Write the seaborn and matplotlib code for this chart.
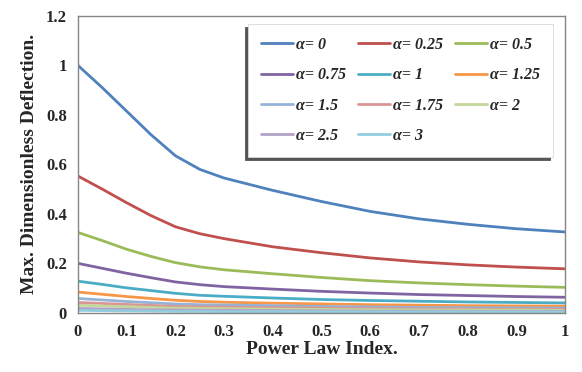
import numpy as np
import pandas as pd
import seaborn as sns
import matplotlib
matplotlib.use("Agg")
import matplotlib.pyplot as plt

# power law index values
n_index = [0.0, 0.05, 0.1, 0.15, 0.2, 0.25, 0.3, 0.4, 0.5, 0.6, 0.7, 0.8, 0.9, 1.0]

# max dimensionless deflection for each alpha
defl_a0 = [1.000, 0.910, 0.815, 0.720, 0.635, 0.580, 0.545, 0.495, 0.450, 0.410, 0.380, 0.358, 0.340, 0.327]
defl_a025 = [0.553, 0.500, 0.445, 0.393, 0.348, 0.320, 0.300, 0.267, 0.243, 0.222, 0.206, 0.194, 0.185, 0.178]
defl_a05 = [0.325, 0.292, 0.257, 0.228, 0.203, 0.186, 0.174, 0.158, 0.143, 0.130, 0.121, 0.114, 0.108, 0.103]
defl_a075 = [0.200, 0.180, 0.160, 0.142, 0.125, 0.114, 0.106, 0.096, 0.087, 0.080, 0.074, 0.070, 0.066, 0.063]
defl_a1 = [0.128, 0.115, 0.101, 0.090, 0.079, 0.071, 0.067, 0.060, 0.054, 0.050, 0.047, 0.044, 0.042, 0.040]
defl_a125 = [0.084, 0.075, 0.066, 0.058, 0.051, 0.046, 0.043, 0.039, 0.036, 0.033, 0.031, 0.029, 0.028, 0.027]
defl_a15 = [0.058, 0.052, 0.046, 0.041, 0.036, 0.033, 0.032, 0.029, 0.026, 0.024, 0.022, 0.021, 0.020, 0.019]
defl_a175 = [0.042, 0.038, 0.034, 0.030, 0.026, 0.024, 0.023, 0.021, 0.019, 0.017, 0.016, 0.015, 0.014, 0.014]
defl_a2 = [0.031, 0.028, 0.025, 0.022, 0.019, 0.018, 0.017, 0.015, 0.014, 0.013, 0.012, 0.011, 0.011, 0.010]
defl_a25 = [0.018, 0.016, 0.014, 0.012, 0.011, 0.010, 0.010, 0.009, 0.008, 0.007, 0.007, 0.006, 0.006, 0.006]
defl_a3 = [0.010, 0.009, 0.008, 0.007, 0.006, 0.0055, 0.005, 0.005, 0.0045, 0.004, 0.004, 0.0036, 0.0034, 0.0033]

alpha_labels = ["α= 0", "α= 0.25", "α= 0.5", "α= 0.75", "α= 1", "α= 1.25",
                "α= 1.5", "α= 1.75", "α= 2", "α= 2.5", "α= 3"]
all_series = [defl_a0, defl_a025, defl_a05, defl_a075, defl_a1, defl_a125,
              defl_a15, defl_a175, defl_a2, defl_a25, defl_a3]

colors = ["#4F81BD", "#C0504D", "#9BBB59", "#8064A2", "#4BACC6", "#F79646",
          "#95B3D7", "#D99694", "#C3D69B", "#B3A2C7", "#93CDDD"]

x_ticklabels = ["0", "0.1", "0.2", "0.3", "0.4", "0.5", "0.6", "0.7", "0.8", "0.9", "1"]
y_ticklabels = ["0", "0.2", "0.4", "0.6", "0.8", "1", "1.2"]

rows = []
for lab, vals in zip(alpha_labels, all_series):
    for x, v in zip(n_index, vals):
        rows.append({"n": x, "defl": v, "alpha": lab})
df = pd.DataFrame(rows)

sns.set_style("white")
plt.rcParams["font.family"] = ["Liberation Serif", "DejaVu Serif"]

fig = plt.figure(figsize=(5.82, 3.72), dpi=100)
ax = fig.add_axes([0.134, 0.159, 0.837, 0.798])

sns.lineplot(data=df, x="n", y="defl", hue="alpha", hue_order=alpha_labels,
             palette=colors, linewidth=2, ax=ax, legend=False)

ax.set_xlim(0, 1)
ax.set_ylim(0, 1.2)
ax.set_xticks(np.linspace(0, 1, len(x_ticklabels)))
ax.set_xticklabels(x_ticklabels)
ax.set_yticks(np.linspace(0, 1.2, len(y_ticklabels)))
ax.set_yticklabels(y_ticklabels)
for lbl in ax.get_xticklabels() + ax.get_yticklabels():
    lbl.set_fontweight("bold")
    lbl.set_fontsize(12)

for sp in ax.spines.values():
    sp.set_color("#868686")
    sp.set_linewidth(1)
ax.tick_params(direction="out", length=4, color="#868686", width=1, pad=4)

ax.set_xlabel("Power Law Index.", fontsize=14, fontweight="bold", labelpad=1)
ax.set_ylabel("Max. Dimensionless Deflection.", fontsize=14, fontweight="bold", labelpad=6)

# legend filled row by row like the original (matplotlib fills columns)
order = [0, 3, 6, 9, 1, 4, 7, 10, 2, 5, 8]
handles = [plt.Line2D([], [], color=colors[i], lw=2) for i in order]
labels = [alpha_labels[i] for i in order]
leg = ax.legend(handles, labels, ncol=3, loc="upper right",
                bbox_to_anchor=(0.992, 1.0), frameon=True, fancybox=False,
                prop={"weight": "bold", "style": "italic", "size": 11.5},
                handlelength=2.0, handletextpad=0.2, columnspacing=0.75,
                labelspacing=0.9, borderpad=0.8,
                shadow={"ox": -2.5, "oy": -2.5, "color": "#555555", "alpha": 1})
leg.get_frame().set_edgecolor("#d9d9d9")
leg.get_frame().set_linewidth(0.6)

fig.savefig("out.png", dpi=100)
